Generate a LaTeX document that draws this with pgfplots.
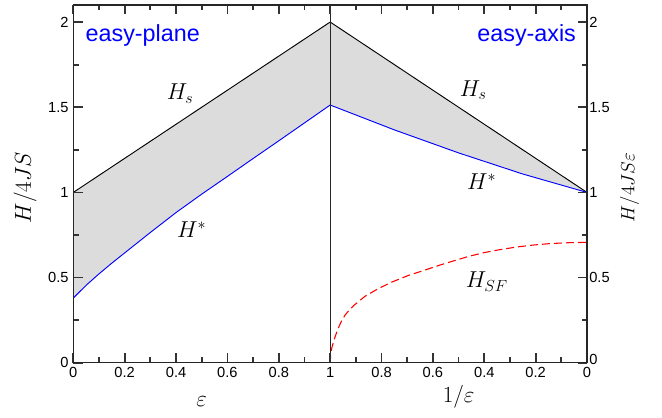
\documentclass[border=0pt]{standalone}
\usepackage{fontspec}
\setmainfont{Liberation Sans}
\usepackage{pgfplots}
\pgfplotsset{compat=1.18}
\definecolor{bandgray}{HTML}{DCDCDC}
\definecolor{pureblue}{HTML}{0000FF}
\definecolor{purered}{HTML}{FF0000}

\begin{document}
\begin{tikzpicture}
\pgfplotsset{every tick label/.append style={font=\fontsize{11}{13}\selectfont},
  /pgf/number format/assume math mode=true}
\begin{axis}[scale only axis,width=385.5pt,height=268.5pt,
  xmin=0,xmax=2,ymin=0,ymax=2.1,
  xtick={0,0.2,0.4,0.6,0.8,1,1.2,1.4,1.6,1.8,2},
  xticklabels={0,0.2,0.4,0.6,0.8,1,0.8,0.6,0.4,0.2,0},
  minor xtick={0.1,0.3,0.5,0.7,0.9,1.1,1.3,1.5,1.7,1.9},
  ytick={0,0.5,1,1.5,2},yticklabels={0,0.5,1,1.5,2},
  minor ytick={0.25,0.75,1.25,1.75},
  xtick pos=both,ytick pos=both,
  tick align=inside,major tick length=7pt,minor tick length=4pt,
  tick style={draw=black!80,line width=1.3pt},
  axis line style={line width=1pt,black!85},
  axis on top,clip=false]
% band between H_s and H*
\addplot[fill=bandgray,draw=none] coordinates {(0,1) (1,2) (2,1) (1.75,1.108) (1.5,1.232) (1.25,1.367) (1,1.513) (0.9,1.408) (0.8,1.303) (0.7,1.199) (0.6,1.094) (0.5,0.990) (0.4,0.882) (0.3,0.765) (0.2,0.645) (0.15,0.585) (0.1,0.522) (0.05,0.455) (0,0.380)} -- cycle;
% H_s
\addplot[black,line width=0.7pt] coordinates {(0,1) (1,2) (2,1)};
% H*
\addplot[pureblue,line width=0.7pt] coordinates {(0,0.380) (0.05,0.455) (0.1,0.522) (0.15,0.585) (0.2,0.645) (0.3,0.765) (0.4,0.882) (0.5,0.990) (0.6,1.094) (0.7,1.199) (0.8,1.303) (0.9,1.408) (1,1.513) (1.25,1.367) (1.5,1.232) (1.75,1.108) (2,1.0)};
% H_SF
\addplot[purered,line width=0.8pt,dash pattern=on 6pt off 3pt] coordinates {(1,0) (1.002,0.05) (1.006,0.085) (1.013,0.125) (1.022,0.165) (1.032,0.205) (1.044,0.245) (1.058,0.280) (1.076,0.313) (1.097,0.343) (1.136,0.391) (1.188,0.436) (1.24,0.474) (1.305,0.513) (1.37,0.545) (1.43,0.575) (1.48,0.598) (1.54,0.625) (1.6,0.647) (1.66,0.664) (1.727,0.680) (1.79,0.691) (1.857,0.700) (1.93,0.705) (2,0.707)};
% divider at eps = 1
\addplot[black!85,line width=1pt] coordinates {(1,0) (1,2.1)};
\node[anchor=west,text=pureblue,font=\fontsize{17.5}{19}\selectfont] at (axis cs:0.03,1.92) {easy-plane};
\node[anchor=east,text=pureblue,font=\fontsize{17.5}{19}\selectfont] at (axis cs:1.975,1.92) {easy-axis};
\node[font=\fontsize{17.5}{19}\selectfont] at (axis cs:0.416,1.58) {$H_s$};
\node[font=\fontsize{17.5}{19}\selectfont] at (axis cs:1.557,1.60) {$H_s$};
\node[font=\fontsize{17.5}{19}\selectfont] at (axis cs:0.461,0.78) {$H^*$};
\node[font=\fontsize{17.5}{19}\selectfont] at (axis cs:1.59,1.063) {$H^*$};
\node[font=\fontsize{17}{19}\selectfont] at (axis cs:1.61,0.477) {$H_{SF}$};
% right-hand tick labels (H/4JS epsilon)
\node[anchor=west,inner sep=1.5pt,font=\fontsize{11}{13}\selectfont] at (axis cs:2,0.02) {0};
\node[anchor=west,inner sep=1.5pt,font=\fontsize{11}{13}\selectfont] at (axis cs:2,0.5) {0.5};
\node[anchor=west,inner sep=1.5pt,font=\fontsize{11}{13}\selectfont] at (axis cs:2,1) {1};
\node[anchor=west,inner sep=1.5pt,font=\fontsize{11}{13}\selectfont] at (axis cs:2,1.5) {1.5};
\node[anchor=west,inner sep=1.5pt,font=\fontsize{11}{13}\selectfont] at (axis cs:2,2) {2};
\node[font=\fontsize{16.5}{18}\selectfont] at (axis description cs:0.25,-0.108) {$\varepsilon$};
\node[font=\fontsize{18}{20}\selectfont] at (axis description cs:0.75,-0.095) {$1/\varepsilon$};
\node[rotate=90,font=\fontsize{16.5}{18}\selectfont] at (axis description cs:-0.094,0.49) {$H/4JS$};
\node[rotate=90,font=\fontsize{14}{16}\selectfont] at (axis description cs:1.083,0.49) {$H/4JS\varepsilon$};
\end{axis}
\path (current axis.south west) ++(-55pt,-41.25pt);
\path (current axis.north east) ++(56.25pt,3.75pt);
\end{tikzpicture}
\end{document}
